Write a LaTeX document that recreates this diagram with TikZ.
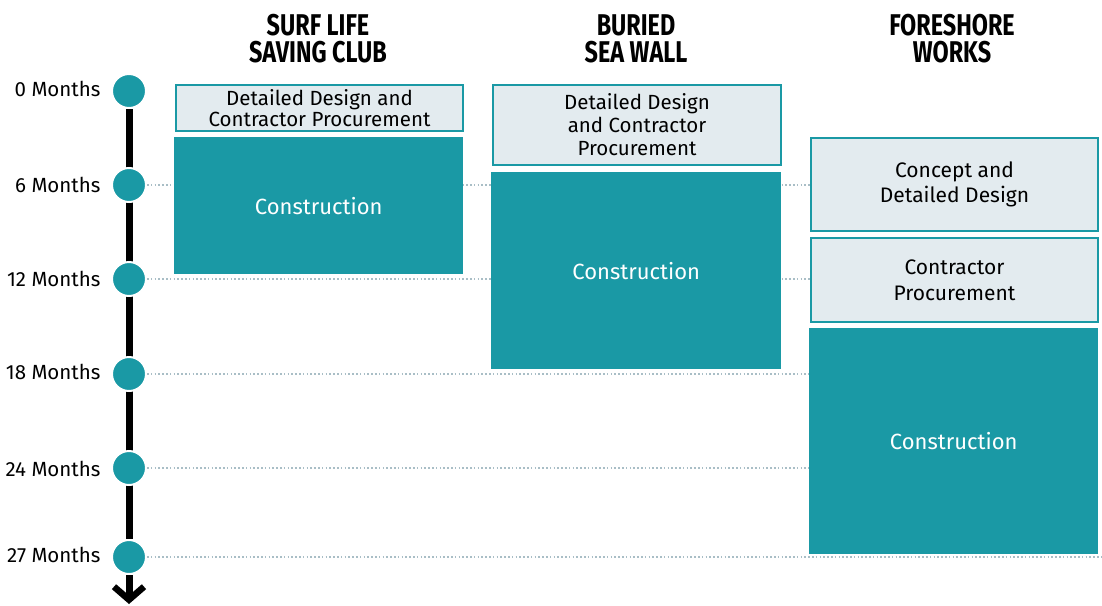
\documentclass[tikz,border=0pt]{standalone}
\usepackage{fontspec}
\setmainfont{Fira Sans}
\newfontfamily\headfont[FakeStretch=0.78]{Fira Sans Bold}
\usetikzlibrary{arrows.meta}
\definecolor{teal1}{HTML}{1A99A5}
\definecolor{pale}{HTML}{E3EBEF}
\definecolor{dotgrey}{HTML}{A9BEC6}
\tikzset{
  phase/.style={draw=teal1, line width=2pt, fill=pale, anchor=north west,
    align=center, inner sep=0pt, font=\fontsize{20.5}{23}\selectfont, text=black},
  build/.style={fill=teal1, anchor=north west, align=center, inner sep=0pt,
    font=\fontsize{22}{26}\selectfont, text=white},
  milestone/.style={circle, fill=teal1, draw=white, line width=2pt, minimum size=34pt, inner sep=0pt},
  monthlabel/.style={anchor=east, font=\fontsize{20.5}{24}\selectfont},
  header/.style={align=center, font=\headfont\fontsize{30}{27}\selectfont},
  guide/.style={draw=dotgrey, line width=1.6pt, dash pattern=on 1.6pt off 2.2pt}
}
\begin{document}
\begin{tikzpicture}[x=1pt,y=-1pt]
\useasboundingbox (0,0) rectangle (1102,605);

% milestones on the time axis
\node[milestone] (m0) at (129,91) {};
\node[milestone] (m6) at (129,185) {};
\node[milestone] (m12) at (129,279) {};
\node[milestone] (m18) at (129,374) {};
\node[milestone] (m24) at (129,468) {};
\node[milestone] (m27) at (129,557) {};
\coordinate (tip) at (129,604);

% dotted guides from each milestone
\coordinate (g6) at (812,185);
\coordinate (g12) at (812,279);
\coordinate (g18) at (812,374);
\coordinate (g24) at (812,468);
\coordinate (g27) at (1102,557);
\draw[guide] (m6.east) -- (g6);
\draw[guide] (m12.east) -- (g12);
\draw[guide] (m18.east) -- (g18);
\draw[guide] (m24.east) -- (g24);
\draw[guide] (m27.east) -- (g27);

% axis line and arrow
\draw[line width=7pt] (m0.south) -- (m27.north);
\draw[line width=7pt, -{Straight Barb[length=13pt, width=30pt, line width=6.5pt]}] (m27.south) -- (tip);
\foreach \m in {m0,m6,m12,m18,m24,m27} \node[milestone] at (\m) {};

% month labels
\node[monthlabel] (l0) at (104,89) {0 Months};
\node[monthlabel] (l6) at (104,185) {6 Months};
\node[monthlabel] (l12) at (104,279) {12 Months};
\node[monthlabel] (l18) at (104,372) {18 Months};
\node[monthlabel] (l24) at (104,469) {24 Months};
\node[monthlabel] (l27) at (104,555) {27 Months};

% column headers
\node[header] (h1) at (318,39) {SURF LIFE\\SAVING CLUB};
\node[header] (h2) at (636,39) {BURIED\\SEA WALL};
\node[header] (h3) at (952,39) {FORESHORE\\WORKS};

% Surf Life Saving Club
\node[phase, minimum width=287pt, minimum height=46pt, font=\fontsize{20.5}{21}\selectfont] (s1) at (175,84) {Detailed Design and\\Contractor Procurement};
\node[build, minimum width=289pt, minimum height=137pt] (s2) at (174,137) {Construction};

% Buried sea wall
\node[phase, minimum width=288pt, minimum height=80pt] (b1) at (492,84) {Detailed Design\\and Contractor\\Procurement};
\node[build, minimum width=290pt, minimum height=197pt] (b2) at (491,172) {Construction};

% Foreshore works
\node[phase, minimum width=287pt, minimum height=93pt, font=\fontsize{21}{25}\selectfont] (f1) at (810,137) {Concept and\\Detailed Design};
\node[phase, minimum width=287pt, minimum height=84pt, font=\fontsize{21}{26}\selectfont] (f2) at (810,237) {Contractor\\Procurement};
\node[build, minimum width=289pt, minimum height=226pt] (f3) at (809,328) {Construction};
\end{tikzpicture}
\end{document}
